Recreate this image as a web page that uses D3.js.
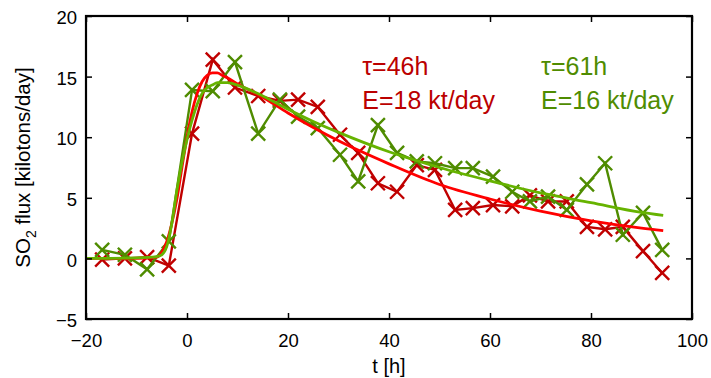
<!DOCTYPE html>
<html lang="en">
<head>
  <meta charset="UTF-8">
  <title>SO2 flux</title>
  <script src="https://d3js.org/d3.v7.min.js"></script>
  <style>
    body { margin: 0; background: #fff; }
    text { font-family: "Liberation Sans", Arial, sans-serif; }
    .data-line { fill: none; stroke-width: 2.4; }
    .fit-line { fill: none; stroke-width: 2.8; }
  </style>
</head>
<body>
<script>
  // Observations (time in hours, flux in kt/day)
  const obsTime = [-16.8, -12.3, -7.9, -3.6, 1.0, 5.1, 9.5, 14.1, 18.4, 22.0, 25.9, 30.3, 33.9, 37.8, 41.6,
                   45.5, 49.1, 53.1, 56.6, 60.6, 64.4, 67.9, 71.5, 75.2, 79.2, 82.8, 86.3, 90.3, 94.1];
  const redObs = [-0.1, 0.0, 0.1, -0.6, 10.3, 16.4, 14.1, 13.4, 13.0, 13.1, 12.5, 10.2, 8.7, 6.2, 5.5,
                  7.7, 7.3, 4.0, 4.15, 4.4, 4.3, 5.2, 4.7, 4.7, 2.6, 2.4, 2.6, 0.6, -1.2];
  const greenObs = [0.7, 0.3, -0.9, 1.4, 13.9, 13.8, 16.2, 10.3, 13.1, 11.7, 10.75, 8.55, 6.35, 11.0, 8.7,
                    8.0, 7.85, 7.45, 7.45, 6.75, 5.5, 4.7, 5.1, 4.0, 6.1, 7.85, 1.95, 3.75, 0.7];

  // Fitted curves
  const fitTime = [-20, -10, -6, -5, -4, -3, -2, -1, 0, 1, 2, 3, 4, 5, 6, 7, 8, 10, 15, 20, 25, 30, 40, 50, 60, 70, 80, 90, 94.3];
  const redFit = [0, 0, 0.1, 0.5, 1.4, 2.9, 4.9, 7.5, 10.0, 12.1, 13.6, 14.6, 15.1, 15.3, 15.3, 15.1, 14.9,
                  14.4, 13.3, 12.0, 10.8, 9.7, 7.8, 6.1, 4.9, 3.9, 3.1, 2.5, 2.3];
  const greenFit = [0, 0.05, 0.15, 0.3, 1.0, 2.9, 5.6, 7.9, 9.8, 11.4, 12.7, 13.6, 14.1, 14.3, 14.5, 14.5, 14.5,
                    14.3, 13.4, 12.3, 11.3, 10.4, 8.8, 7.5, 6.4, 5.4, 4.6, 3.8, 3.55];

  const xTicks = [-20, 0, 20, 40, 60, 80, 100];
  const yTicks = [-5, 0, 5, 10, 15, 20];

  const colors = {
    redData: '#c00000', redFit: '#ff0000', redText: '#bb0000',
    greenData: '#4f8c00', greenFit: '#66b300', greenText: '#4f8c00'
  };

  const W = 711, H = 378;
  const margin = {top: 16, right: 19, bottom: 59, left: 86};
  const w = W - margin.left - margin.right;
  const h = H - margin.top - margin.bottom;

  const svg = d3.select('body').append('svg')
    .attr('width', W)
    .attr('height', H);

  const g = svg.append('g')
    .attr('transform', `translate(${margin.left},${margin.top})`);

  const x = d3.scaleLinear().domain([-20, 100]).range([0, w]);
  const y = d3.scaleLinear().domain([-5, 20]).range([h, 0]);

  svg.append('defs').append('clipPath').attr('id', 'plot-clip')
    .append('rect').attr('width', w).attr('height', h);

  const plot = g.append('g').attr('clip-path', 'url(#plot-clip)');

  const line = d3.line().x(d => x(d[0])).y(d => y(d[1]));
  const smooth = d3.line().x(d => x(d[0])).y(d => y(d[1])).curve(d3.curveMonotoneX);

  // line + cross markers
  function drawSeries(values, color) {
    const pts = obsTime.map((t, i) => [t, values[i]]);
    plot.append('path')
      .datum(pts)
      .attr('class', 'data-line')
      .attr('stroke', color)
      .attr('d', line);
    const s = 7;
    plot.append('g').selectAll('path')
      .data(pts)
      .join('path')
      .attr('d', d => {
        const cx = x(d[0]), cy = y(d[1]);
        return `M${cx - s},${cy - s}L${cx + s},${cy + s}M${cx - s},${cy + s}L${cx + s},${cy - s}`;
      })
      .attr('stroke', color)
      .attr('stroke-width', 2.4)
      .attr('fill', 'none');
  }

  drawSeries(redObs, colors.redData);
  drawSeries(greenObs, colors.greenData);

  plot.append('path')
    .datum(fitTime.map((t, i) => [t, redFit[i]]))
    .attr('class', 'fit-line')
    .attr('stroke', colors.redFit)
    .attr('d', smooth);

  plot.append('path')
    .datum(fitTime.map((t, i) => [t, greenFit[i]]))
    .attr('class', 'fit-line')
    .attr('stroke', colors.greenFit)
    .attr('d', smooth);

  // axes, ticks inside on all four sides
  const tickLen = 6;
  const axisBottom = g.append('g').attr('transform', `translate(0,${h})`)
    .call(d3.axisBottom(x).tickValues(xTicks).tickSizeInner(-tickLen).tickSizeOuter(0).tickFormat(d3.format('d')));
  const axisLeft = g.append('g')
    .call(d3.axisLeft(y).tickValues(yTicks).tickSizeInner(-tickLen).tickSizeOuter(0).tickFormat(d3.format('d')));
  g.append('g')
    .call(d3.axisTop(x).tickValues(xTicks).tickSizeInner(-tickLen).tickSizeOuter(0).tickFormat(''));
  g.append('g').attr('transform', `translate(${w},0)`)
    .call(d3.axisRight(y).tickValues(yTicks).tickSizeInner(-tickLen).tickSizeOuter(0).tickFormat(''));

  g.selectAll('.domain').remove();
  g.selectAll('.tick line').attr('stroke', '#000').attr('stroke-width', 1.5);

  axisBottom.selectAll('text')
    .attr('y', 28)
    .attr('dy', 0)
    .attr('font-size', 18.5)
    .attr('fill', '#000');
  axisLeft.selectAll('text')
    .attr('x', -9)
    .attr('dy', '0.42em')
    .attr('font-size', 18.5)
    .attr('fill', '#000');

  g.append('rect')
    .attr('width', w)
    .attr('height', h)
    .attr('fill', 'none')
    .attr('stroke', '#000')
    .attr('stroke-width', 2.2);

  // axis titles
  svg.append('text')
    .attr('x', margin.left + w / 2)
    .attr('y', 373)
    .attr('text-anchor', 'middle')
    .attr('font-size', 20)
    .text('t [h]');

  const ylab = svg.append('text')
    .attr('transform', `translate(30,${margin.top + h / 2}) rotate(-90)`)
    .attr('text-anchor', 'middle')
    .attr('font-size', 20.5);
  ylab.append('tspan').text('SO');
  ylab.append('tspan').attr('font-size', 14).attr('dy', 6).text('2');
  ylab.append('tspan').attr('dy', -6).text(' flux [kilotons/day]');

  // annotations
  const notes = [
    {t: 34.7, v: 15.1, text: 'τ=46h', color: colors.redText},
    {t: 34.7, v: 12.3, text: 'E=18 kt/day', color: colors.redText},
    {t: 70.1, v: 15.1, text: 'τ=61h', color: colors.greenText},
    {t: 70.1, v: 12.3, text: 'E=16 kt/day', color: colors.greenText}
  ];
  g.selectAll('.note')
    .data(notes)
    .join('text')
    .attr('class', 'note')
    .attr('x', d => x(d.t))
    .attr('y', d => y(d.v))
    .attr('font-size', 25)
    .attr('fill', d => d.color)
    .text(d => d.text);
</script>
</body>
</html>
